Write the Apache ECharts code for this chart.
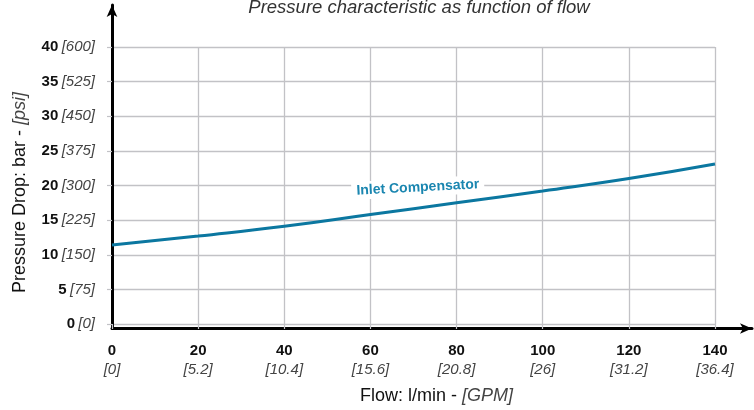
<!DOCTYPE html>
<html><head><meta charset="utf-8">
<script src="https://cdn.jsdelivr.net/npm/echarts@6/dist/echarts.min.js"></script>
<style>html,body{margin:0;padding:0;background:#fff}#c{width:754px;height:410px}</style>
</head><body><div id="c"></div>
<script>
const flow = [0, 20, 40, 60, 80, 100, 120, 140];
const pressure = [11.4, 12.7, 14.1, 15.8, 17.5, 19.2, 21.0, 23.1];
const xTicks = [0, 20, 40, 60, 80, 100, 120, 140];
const gpmLabels = ['0', '5.2', '10.4', '15.6', '20.8', '26', '31.2', '36.4'];
const yTicks = [0, 5, 10, 15, 20, 25, 30, 35, 40];
const psiLabels = ['0', '75', '150', '225', '300', '375', '450', '525', '600'];
const seriesName = 'Inlet Compensator';
const labelAt = [71, 19.7];

const FONT = 'Liberation Sans, Arial, Helvetica, sans-serif';
const chart = echarts.init(document.getElementById('c'));
const rich = {
  b: {fontFamily: FONT, fontSize: 15, fontWeight: 'bold', color: '#111'},
  i: {fontFamily: FONT, fontSize: 15, fontStyle: 'italic', color: '#444'}
};
const xRich = {
  b: {fontFamily: FONT, fontSize: 15, fontWeight: 'bold', color: '#111', lineHeight: 19},
  i: {fontFamily: FONT, fontSize: 15, fontStyle: 'italic', color: '#444', lineHeight: 19}
};
chart.setOption({
  animation: false,
  backgroundColor: '#fff',
  title: {
    text: 'Pressure characteristic as function of flow',
    left: 414, top: -7, textAlign: 'center',
    textStyle: {fontFamily: FONT, fontSize: 18.5, fontStyle: 'italic', fontWeight: 'normal', color: '#333'}
  },
  grid: [
    {left: 112, right: 39, top: 47, bottom: 83},
    {left: 112, right: 2, top: 5, bottom: 81.5}
  ],
  xAxis: [
    {
      type: 'value', gridIndex: 0, min: 0, max: 140, interval: 20,
      name: '{n|Flow: l/min - }{i|[GPM]}',
      nameLocation: 'middle', nameGap: 63,
      nameTextStyle: {padding: [0, 0, 0, 46], rich: {
        n: {fontFamily: FONT, fontSize: 18, color: '#111'},
        i: {fontFamily: FONT, fontSize: 18, fontStyle: 'italic', color: '#444'}
      }},
      axisLine: {show: false},
      axisTick: {show: true, length: 5, lineStyle: {color: '#c2c2c6', width: 1.2}},
      splitLine: {show: true, lineStyle: {color: '#c2c2c6', width: 1.3}},
      axisLabel: {
        margin: 17,
        formatter: v => { const k = xTicks.indexOf(v); return '{b|' + v + '}\n{i|[' + gpmLabels[k] + ']}'; },
        rich: xRich
      }
    },
    {
      type: 'value', gridIndex: 1, min: 0, max: 1,
      axisLine: {show: true, symbol: ['none', 'arrow'], symbolSize: [8, 12], lineStyle: {color: '#000', width: 3}},
      axisTick: {show: false}, axisLabel: {show: false}, splitLine: {show: false}
    }
  ],
  yAxis: [
    {
      type: 'value', gridIndex: 0, min: 0, max: 40, interval: 5,
      name: '{n|Pressure Drop: bar - }{i|[psi]}',
      nameLocation: 'middle', nameGap: 83, nameRotate: 90,
      nameTextStyle: {padding: [0, 14, 0, 0], rich: {
        n: {fontFamily: FONT, fontSize: 18, color: '#111'},
        i: {fontFamily: FONT, fontSize: 18, fontStyle: 'italic', color: '#444'}
      }},
      axisLine: {show: false},
      axisTick: {show: true, length: 5, lineStyle: {color: '#c2c2c6', width: 1.2}},
      splitLine: {show: true, lineStyle: {color: '#c2c2c6', width: 1.3}},
      axisLabel: {
        margin: 17,
        formatter: v => { const k = yTicks.indexOf(v); return '{b|' + v + '} {i|[' + psiLabels[k] + ']}'; },
        rich: rich
      }
    },
    {
      type: 'value', gridIndex: 1, min: 0, max: 1,
      axisLine: {show: true, symbol: ['none', 'arrow'], symbolSize: [8, 12], lineStyle: {color: '#000', width: 3}},
      axisTick: {show: false}, axisLabel: {show: false}, splitLine: {show: false}
    }
  ],
  series: [{
    name: seriesName,
    type: 'line', xAxisIndex: 0, yAxisIndex: 0,
    data: flow.map((x, i) => [x, pressure[i]]),
    smooth: true, showSymbol: false,
    lineStyle: {color: '#0b77a0', width: 3},
    z: 3,
    markPoint: {
      symbol: 'circle', symbolSize: 0, silent: true,
      data: [{coord: labelAt}],
      label: {
        show: true, position: 'inside', formatter: seriesName, rotate: 3,
        fontFamily: FONT, fontSize: 14, fontWeight: 'bold', color: '#1a86b0',
        backgroundColor: '#fff', padding: [2, 5]
      }
    }
  }]
});
</script></body></html>
